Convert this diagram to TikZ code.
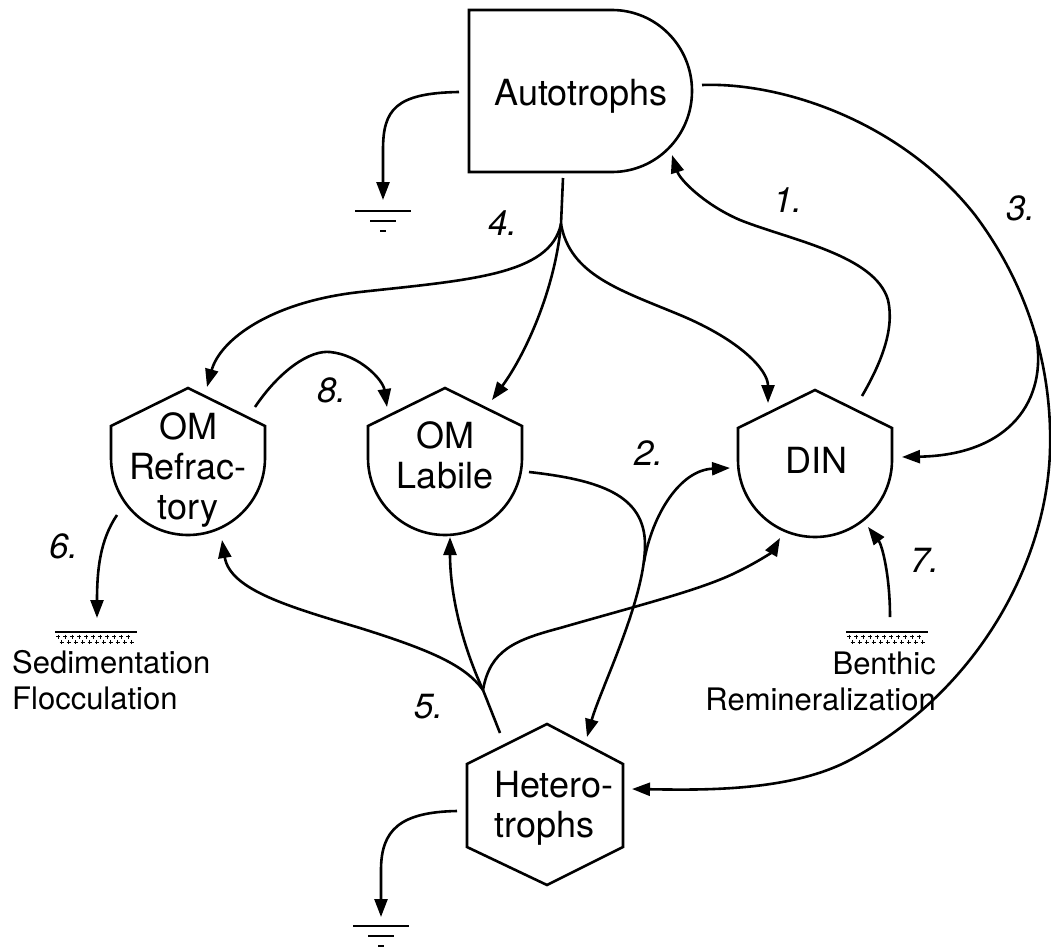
\documentclass[tikz,border=0pt]{standalone}
\usepackage{fontspec}
\setmainfont{TeX Gyre Heros}
\usetikzlibrary{arrows.meta}
\tikzset{
  shp/.style={line width=2.6pt},
  flow/.style={line width=2.6pt, -{Triangle[length=18pt,width=13pt]}},
  trunk/.style={line width=2.6pt},
  txt/.style={inner sep=0pt, font=\fontsize{36}{40}\selectfont},
  lab/.style={inner sep=0pt, font=\fontsize{31}{36}\selectfont},
  num/.style={inner sep=0pt, font=\fontsize{35}{40}\selectfont\itshape},
  shield/.pic={\draw[shp] (-77,38) -- (0,0) -- (77,38) -- (77,70)
      .. controls (77,112.5) and (42.5,147) .. (0,147)
      .. controls (-42.5,147) and (-77,112.5) .. (-77,70) -- cycle;},
  ground/.pic={\draw[line width=2.6pt] (-28,0) -- (28,0);
      \draw[line width=2.6pt] (-13,10) -- (13,10);
      \draw[line width=2.6pt] (-3,20) -- (3,20);},
  sediment/.pic={\draw[line width=1.6pt] (-41,0) -- (41,0);
      \foreach \x in {-38,-31,...,38} {\draw[line width=1pt] ({\x-2},4.5) -- ({\x+2},4.5) (\x,2.5) -- (\x,6.5);}
      \foreach \x in {-34.5,-27.5,...,36} {\draw[line width=1pt] ({\x-2},10) -- ({\x+2},10) (\x,8) -- (\x,12);}}
}
\begin{document}
\begin{tikzpicture}[x=1pt,y=-1pt]
\useasboundingbox (0,0) rectangle (1051,947);

% ---- shapes ----
\draw[shp] (469,10) -- (612,10) .. controls (656,10) and (692,46) .. (692,91)
   .. controls (692,136) and (656,172) .. (612,172) -- (469,172) -- cycle;
\pic at (188,388) {shield};
\pic at (445,388) {shield};
\pic at (815,390) {shield};
\draw[shp] (547,724) -- (623,764) -- (623,847) -- (547,885) -- (467,847) -- (467,764) -- cycle;

% ---- texts ----
\node[txt] (auto) at (581,96) {Autotrophs};
\node[txt, align=center] (omr) at (188,470) {OM\\Refrac-\\tory};
\node[txt, align=center] (oml) at (445,455) {OM\\Labile};
\node[txt] (din) at (816,460) {DIN};
\node[txt, align=left, anchor=west] (het) at (494,808) {Hetero-\\trophs};
\node[lab, align=left, anchor=west] (sed) at (12,680) {Sedimentation\\Flocculation};
\node[lab, align=right, anchor=east] (ben) at (936,681) {Benthic\\Remineralization};

\node[num] (n1) at (788,200) {1.};
\node[num] (n2) at (649,453) {2.};
\node[num] (n3) at (1021,208) {3.};
\node[num] (n4) at (503,223) {4.};
\node[num] (n5) at (429,707) {5.};
\node[num] (n6) at (64,546) {6.};
\node[num] (n7) at (925,560) {7.};
\node[num] (n8) at (332,390) {8.};

% ---- sinks ----
\pic at (383,211) {ground};
\pic at (381,926) {ground};
\pic at (96,632) {sediment};
\pic at (887,632) {sediment};

% ---- anchor points ----
\coordinate (autoW) at (459,92);
\coordinate (g1) at (383,200);
\coordinate (autoS) at (563,178);
\coordinate (j4) at (561,224);
\coordinate (omrTop) at (207,387);
\coordinate (omlTop) at (492,400);
\coordinate (dinTopL) at (768,403);
\coordinate (dinTR) at (862,396);
\coordinate (autoSE) at (672,155);
\coordinate (autoE) at (702,85);
\coordinate (hetE) at (632,789);
\coordinate (s3) at (1036,336);
\coordinate (dinE) at (902,457);
\coordinate (omlE) at (529,472);
\coordinate (j2) at (645,545);
\coordinate (j2b) at (644,562);
\coordinate (hetNE) at (587,737);
\coordinate (dinW) at (730,468);
\coordinate (hetNW) at (500,733);
\coordinate (j5) at (483,690);
\coordinate (omrB) at (222,540);
\coordinate (omlB) at (450,537);
\coordinate (dinB) at (780,538);
\coordinate (omrNE) at (255,407);
\coordinate (omlNW) at (387,407);
\coordinate (omrSW) at (117,515);
\coordinate (sedTop) at (97,618);
\coordinate (benTop) at (890,617);
\coordinate (dinSE) at (868,527);
\coordinate (hetW) at (457,811);
\coordinate (g2) at (381,917);

% ---- connectors ----
\draw[flow] (autoW) .. controls (395,93) and (383,110) .. (383,150) -- (g1);
\draw[flow] (hetW) .. controls (400,812) and (381,830) .. (381,870) -- (g2);

% 4.
\draw[trunk] (autoS) -- (j4);
\draw[flow] (j4) .. controls (550,275) and (470,280) .. (360,292)
   .. controls (270,302) and (220,340) .. (omrTop);
\draw[flow] (j4) .. controls (555,290) and (525,355) .. (omlTop);
\draw[flow] (j4) .. controls (570,275) and (620,290) .. (680,315)
   .. controls (740,340) and (768,370) .. (dinTopL);

% 1.
\draw[flow] (dinTR) .. controls (880,365) and (895,330) .. (888,300)
   .. controls (875,255) and (790,240) .. (740,220)
   .. controls (705,205) and (680,180) .. (autoSE);

% 3.
\draw[flow] (autoE) .. controls (780,82) and (900,120) .. (975,215)
   .. controls (1035,295) and (1052,380) .. (1050,450)
   .. controls (1047,560) and (980,690) .. (850,760)
   .. controls (790,792) and (700,790) .. (hetE);
\draw[flow] (s3) .. controls (1048,400) and (1010,455) .. (dinE);

% 2.
\draw[flow] (omlE) .. controls (600,480) and (645,495) .. (j2)
   .. controls (645,600) and (600,690) .. (hetNE);
\draw[flow] (j2b) .. controls (652,515) and (680,470) .. (dinW);

% 5.
\draw[trunk] (hetNW) -- (j5);
\draw[flow] (j5) .. controls (465,665) and (430,650) .. (360,628)
   .. controls (290,607) and (230,590) .. (omrB);
\draw[flow] (j5) .. controls (460,640) and (450,590) .. (omlB);
\draw[flow] (j5) .. controls (490,650) and (515,640) .. (560,628)
   .. controls (640,605) and (700,590) .. (735,573)
   .. controls (758,562) and (772,552) .. (dinB);

% 8.
\draw[flow] (omrNE) .. controls (280,370) and (310,350) .. (330,352)
   .. controls (360,355) and (383,380) .. (omlNW);

% 6. and 7.
\draw[flow] (omrSW) .. controls (100,540) and (97,570) .. (sedTop);
\draw[flow] (benTop) .. controls (890,575) and (882,545) .. (dinSE);
\end{tikzpicture}
\end{document}
